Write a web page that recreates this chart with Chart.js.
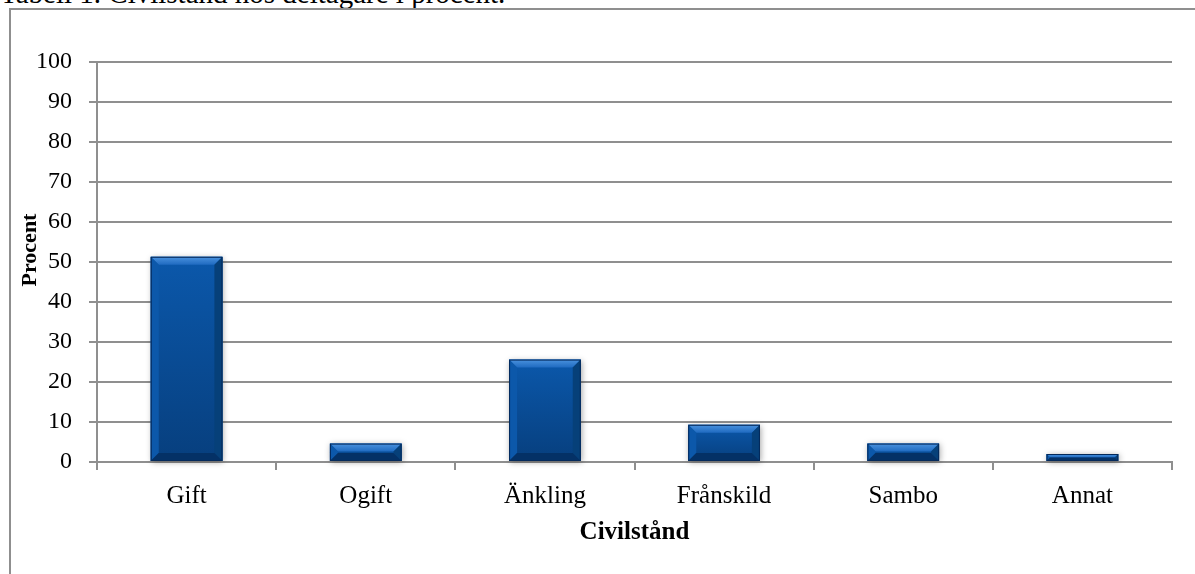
<!DOCTYPE html>
<html lang="sv">
<head>
<meta charset="utf-8">
<title>Civilstånd</title>
<script src="https://cdn.jsdelivr.net/npm/chart.js@4/dist/chart.umd.min.js"></script>
<style>
  html, body { margin: 0; padding: 0; background: #fff; }
  #wrap { position: relative; width: 1195px; height: 574px; overflow: hidden; }
  #caption {
    position: absolute; left: 0; top: -23px; white-space: nowrap; line-height: normal;
    font-family: "Liberation Serif", "Times New Roman", serif; font-size: 29px; color: #000;
  }
  #frame {
    position: absolute; left: 9px; top: 8px; right: -4px; bottom: -4px;
    border-left: 2px solid #8f8f8f; border-top: 2px solid #8f8f8f;
  }
  #chart { position: absolute; left: 0; top: 0; }
</style>
</head>
<body>
<div id="wrap">
  <div id="caption">Tabell 1. Civilstånd hos deltagare i procent.</div>
  <div id="frame"></div>
  <canvas id="chart" width="1195" height="574"></canvas>
</div>
<script>
// Civilstånd bland deltagarna, andel i procent
const categories = ['Gift', 'Ogift', 'Änkling', 'Frånskild', 'Sambo', 'Annat'];
const percentValues = [51.3, 4.6, 25.6, 9.3, 4.6, 2.0];
const yTickValues = [0, 10, 20, 30, 40, 50, 60, 70, 80, 90, 100];
const xAxisTitle = 'Civilstånd';
const yAxisTitle = 'Procent';

const serif = '"Liberation Serif", "Times New Roman", serif';
const gridGrey = '#8f8f8f';

// Beveled blue bars with a soft drop shadow
const bevelBars = {
  id: 'bevelBars',
  beforeDatasetsDraw(chart) {
    const ctx = chart.ctx;
    chart.getDatasetMeta(0).data.forEach(bar => {
      const { x, y, base, width } = bar.getProps(['x', 'y', 'base', 'width'], true);
      ctx.save();
      ctx.shadowColor = 'rgba(0,0,0,0.35)';
      ctx.shadowBlur = 6;
      ctx.shadowOffsetX = 1;
      ctx.shadowOffsetY = 1;
      ctx.fillStyle = '#0a4f9c';
      ctx.fillRect(x - width / 2, y, width, base - y);
      ctx.restore();
    });
  },
  afterDatasetsDraw(chart) {
    const ctx = chart.ctx;
    const poly = (pts, fill) => {
      ctx.beginPath();
      ctx.moveTo(pts[0][0], pts[0][1]);
      for (let i = 1; i < pts.length; i++) ctx.lineTo(pts[i][0], pts[i][1]);
      ctx.closePath();
      ctx.fillStyle = fill;
      ctx.fill();
    };
    chart.getDatasetMeta(0).data.forEach(bar => {
      const { x, y, base, width } = bar.getProps(['x', 'y', 'base', 'width'], true);
      const l = x - width / 2, r = x + width / 2, t = y, b = base;
      const h = b - t;
      const d = Math.min(8, h / 2, width / 2);
      ctx.save();
      const face = ctx.createLinearGradient(0, t, 0, b);
      face.addColorStop(0, '#0b58ab');
      face.addColorStop(1, '#073f7e');
      ctx.fillStyle = face;
      ctx.fillRect(l, t, width, h);

      const topG = ctx.createLinearGradient(0, t, 0, t + d);
      topG.addColorStop(0, '#4a92de');
      topG.addColorStop(1, '#1f6ac0');
      poly([[l, t], [r, t], [r - d, t + d], [l + d, t + d]], topG);
      poly([[l, t], [l + d, t + d], [l + d, b - d], [l, b]], '#0c58aa');
      poly([[r, t], [r, b], [r - d, b - d], [r - d, t + d]], '#064079');
      poly([[l, b], [l + d, b - d], [r - d, b - d], [r, b]], '#043166');

      ctx.strokeStyle = '#04295a';
      ctx.lineWidth = 1;
      ctx.strokeRect(l + 0.5, t + 0.5, width - 1, h - 1);
      ctx.restore();
    });
  }
};

// Rotated y-axis title
const yTitle = {
  id: 'yTitle',
  afterDraw(chart) {
    const ctx = chart.ctx;
    ctx.save();
    ctx.translate(30, 250);
    ctx.rotate(-Math.PI / 2);
    ctx.font = 'bold 22px ' + serif;
    ctx.fillStyle = '#000';
    ctx.textAlign = 'center';
    ctx.textBaseline = 'middle';
    ctx.fillText(yAxisTitle, 0, 0);
    ctx.restore();
  }
};

new Chart(document.getElementById('chart'), {
  type: 'bar',
  data: {
    labels: categories,
    datasets: [{
      data: percentValues,
      backgroundColor: 'rgba(0,0,0,0)',
      borderWidth: 0,
      categoryPercentage: 1.0,
      barPercentage: 0.4
    }]
  },
  options: {
    responsive: false,
    animation: false,
    layout: { padding: { top: 62, right: 23, left: 0, bottom: 0 } },
    plugins: {
      legend: { display: false },
      tooltip: { enabled: false }
    },
    scales: {
      x: {
        grid: {
          display: true, drawOnChartArea: false, drawTicks: true,
          tickLength: 8, offset: true, color: gridGrey, lineWidth: 2
        },
        border: { display: true, color: gridGrey, width: 2 },
        ticks: { font: { family: serif, size: 25 }, color: '#000', padding: 11, maxRotation: 0 },
        title: {
          display: true, text: xAxisTitle, color: '#000',
          font: { family: serif, size: 25, weight: 'bold' },
          padding: { top: 2, bottom: 26 }
        },
        afterFit(scale) { scale.height = 112; }
      },
      y: {
        min: 0,
        max: 100,
        afterBuildTicks(scale) { scale.ticks = yTickValues.map(v => ({ value: v })); },
        grid: { color: gridGrey, lineWidth: 2, tickLength: 8 },
        border: { display: true, color: gridGrey, width: 2 },
        ticks: { font: { family: serif, size: 24 }, color: '#000', padding: 17 },
        afterFit(scale) { scale.width = 97; }
      }
    }
  },
  plugins: [bevelBars, yTitle]
});
</script>
</body>
</html>
